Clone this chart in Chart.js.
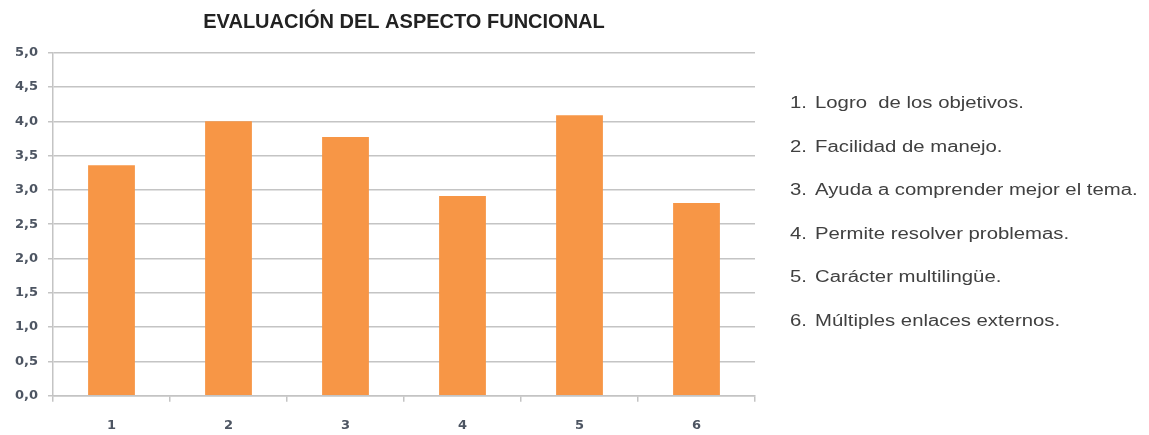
<!DOCTYPE html>
<html>
<head>
<meta charset="utf-8">
<script src="https://cdn.jsdelivr.net/npm/chart.js@4"></script>
<style>
    body { margin: 0; background: #fff; }
    #wrap { position: relative; width: 1149px; height: 435px; }
    #legend {
        position: absolute;
        left: 790px;
        top: 81px;
        font-family: "Liberation Sans", Arial, sans-serif;
        font-size: 16px;
        color: #404040;
        transform: scaleX(1.27);
        transform-origin: left top;
        white-space: pre;
    }
    #legend .item { height: 43.6px; line-height: 43.6px; display: flex; }
    #legend .num { width: 19.7px; }
</style>
</head>
<body>
<div id="wrap">
    <canvas id="chart" width="1149" height="435"></canvas>
    <div id="legend"></div>
</div>
<script>
const categories = ["1", "2", "3", "4", "5", "6"];
const scores = [3.36, 4.0, 3.77, 2.91, 4.09, 2.81];
const descriptions = [
    "Logro  de los objetivos.",
    "Facilidad de manejo.",
    "Ayuda a comprender mejor el tema.",
    "Permite resolver problemas.",
    "Carácter multilingüe.",
    "Múltiples enlaces externos."
];
const chartTitle = "EVALUACIÓN DEL ASPECTO FUNCIONAL";

const legendDiv = document.getElementById("legend");
categories.forEach((cat, i) => {
    const row = document.createElement("div");
    row.className = "item";
    const num = document.createElement("span");
    num.className = "num";
    num.textContent = cat + ".";
    const txt = document.createElement("span");
    txt.textContent = descriptions[i];
    row.appendChild(num);
    row.appendChild(txt);
    legendDiv.appendChild(row);
});

const tickFont = { family: "'DejaVu Sans', sans-serif", size: 13, weight: "bold" };
const tickColor = "#4d5562";
const gridColor = "#c4c4c4";

const ctx = document.getElementById("chart").getContext("2d");
new Chart(ctx, {
    type: "bar",
    data: {
        labels: categories,
        datasets: [{
            data: scores,
            backgroundColor: "#f79646",
            borderWidth: 0,
            barPercentage: 0.4,
            categoryPercentage: 1.0
        }]
    },
    options: {
        responsive: false,
        animation: false,
        layout: { padding: { left: 0, right: 394, top: 0, bottom: 0 } },
        plugins: {
            legend: { display: false },
            tooltip: { enabled: false },
            title: {
                display: true,
                text: chartTitle,
                fullSize: false,
                color: "#222",
                font: { family: "'Liberation Sans', Arial, sans-serif", size: 20, weight: "bold" },
                padding: { top: 10, bottom: 18.7 }
            }
        },
        scales: {
            x: {
                afterFit: (scale) => { scale.height = 39.3; },
                grid: {
                    offset: true,
                    drawOnChartArea: false,
                    drawTicks: true,
                    tickLength: 6,
                    color: gridColor,
                    lineWidth: 1.5
                },
                border: { color: gridColor, width: 1.5 },
                ticks: { font: tickFont, color: tickColor, padding: 16 }
            },
            y: {
                min: 0,
                max: 5,
                afterFit: (scale) => { scale.width = 53; },
                grid: {
                    color: gridColor,
                    lineWidth: 1.5,
                    tickLength: 5
                },
                border: { color: gridColor, width: 1.5 },
                ticks: {
                    stepSize: 0.5,
                    font: tickFont,
                    color: tickColor,
                    padding: 10,
                    callback: (v) => v.toFixed(1).replace(".", ",")
                }
            }
        }
    }
});
</script>
</body>
</html>
